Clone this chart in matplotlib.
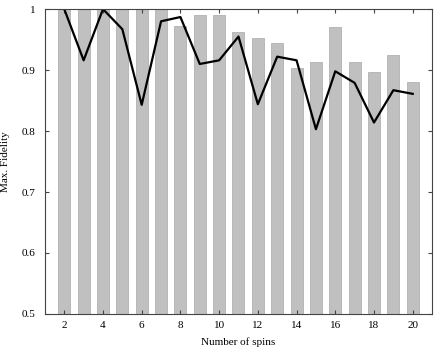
import matplotlib.pyplot as plt

plt.rcParams['font.family'] = ['Liberation Serif', 'DejaVu Serif']

# data
spins = list(range(2, 21))
bar_fid = [1.0, 1.0, 1.0, 1.0, 1.0, 1.0, 0.972, 0.990, 0.990, 0.963,
           0.952, 0.945, 0.903, 0.914, 0.970, 0.913, 0.897, 0.924, 0.881]
line_fid = [1.0, 0.916, 1.0, 0.967, 0.843, 0.980, 0.987, 0.910, 0.916, 0.955,
            0.844, 0.922, 0.916, 0.803, 0.898, 0.879, 0.814, 0.867, 0.861]
yticks = [0.5, 0.6, 0.7, 0.8, 0.9, 1.0]
ytick_labels = ['0.5', '0.6', '0.7', '0.8', '0.9', '1']

fig = plt.figure(figsize=(4.36, 3.5), dpi=100)
ax = fig.add_axes([0.103, 0.103, 0.888, 0.871])

ax.bar(spins, bar_fid, width=0.62, color='#c0c0c0', edgecolor='#a8a8a8', linewidth=0.5)
ax.plot(spins, line_fid, color='black', linewidth=1.6)

ax.set_xlim(1, 21)
ax.set_ylim(0.5, 1)
ax.set_xticks(range(2, 21, 2))
ax.set_yticks(yticks)
ax.set_yticklabels(ytick_labels)
ax.tick_params(direction='in', top=True, right=True, labelsize=8, length=3,
               color='#444444')
ax.tick_params(axis='y', pad=7)
ax.tick_params(axis='x', pad=5)
for s in ax.spines.values():
    s.set_color('#444444')
ax.set_xlabel('Number of spins', fontsize=8, labelpad=5)
ax.set_ylabel('Max. Fidelity', fontsize=8, labelpad=8)

plt.savefig('out.png')
